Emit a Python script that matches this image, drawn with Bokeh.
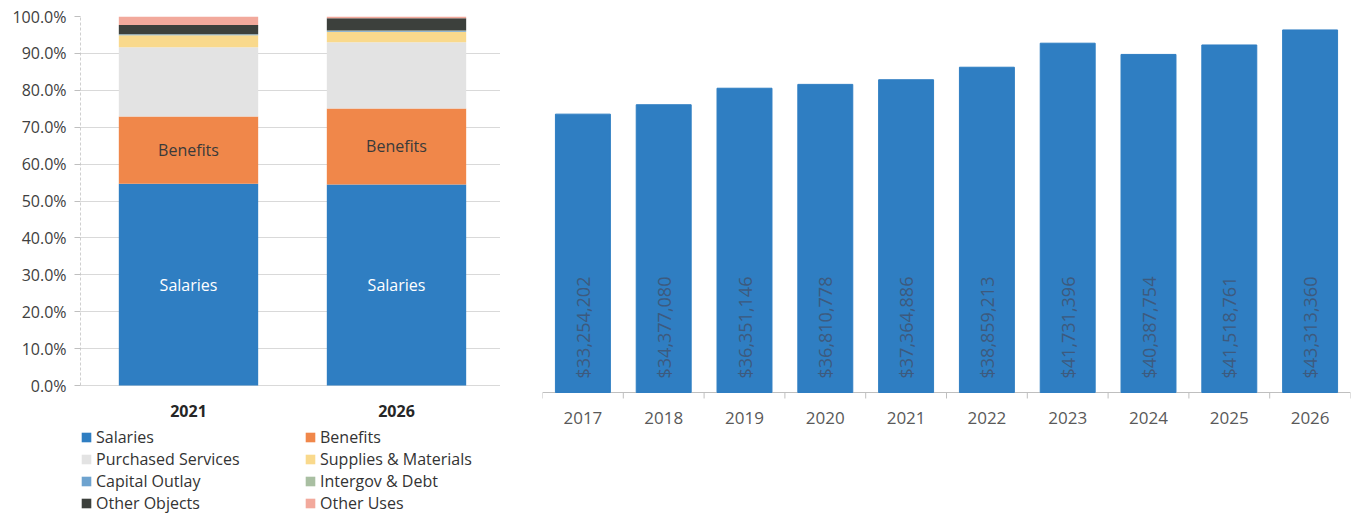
import math
from bokeh.plotting import figure
from bokeh.models import (ColumnDataSource, Range1d, NumeralTickFormatter,
                          Legend, LegendItem, FixedTicker, Grid)
from bokeh.layouts import row
from bokeh.embed import file_html
from bokeh.resources import INLINE
from bokeh.core.properties import value

# ---------------- data ----------------
mix_years = ["2021", "2026"]
segments = ["Salaries", "Benefits", "Purchased Services", "Supplies & Materials",
            "Capital Outlay", "Intergov & Debt", "Other Objects", "Other Uses"]
share_2021 = [54.7, 18.2, 18.8, 3.2, 0.2, 0.1, 2.5, 2.3]
share_2026 = [54.5, 20.6, 17.9, 2.9, 0.2, 0.1, 3.3, 0.5]
segment_colors = ["#2f7ec2", "#f0874a", "#e3e3e3", "#f9d98c",
                  "#6ea3cf", "#a9bfa2", "#3c403c", "#f2a99c"]
inner_labels = ["Salaries", "Benefits"]
inner_label_colors = ["#ffffff", "#3a3a3a"]
pct_ticks = [0.0, 0.1, 0.2, 0.3, 0.4, 0.5, 0.6, 0.7, 0.8, 0.9, 1.0]

budget_years = ["2017", "2018", "2019", "2020", "2021",
                "2022", "2023", "2024", "2025", "2026"]
budget_totals = [33254202, 34377080, 36351146, 36810778, 37364886,
                 38859213, 41731396, 40387754, 41518761, 43313360]

FONT = "Open Sans"

# ---------------- left: stacked 100% bars ----------------
mix_x = [i + 0.5 for i in range(len(mix_years))]
src = {"x": mix_x, "year": mix_years, "base": [0.0] * len(mix_years)}
for name, a, b in zip(segments, share_2021, share_2026):
    src[name] = [a / 100.0, b / 100.0]
source = ColumnDataSource(src)

left = figure(x_range=Range1d(-0.0192, len(mix_years)), y_range=Range1d(-0.355, 1),
              width=500, height=516, output_backend="svg", toolbar_location=None,
              min_border_left=80, min_border_right=0, min_border_top=16,
              min_border_bottom=0, x_axis_location=None)
renderers = left.vbar_stack(segments, x="x", width=0.67, color=segment_colors,
                            source=source, line_width=0)

# inner labels centred in their segments
lx, ly, lt, lc = [], [], [], []
shares = {"2021": share_2021, "2026": share_2026}
for xp, yr in zip(mix_x, mix_years):
    vals = shares[yr]
    for name, col in zip(inner_labels, inner_label_colors):
        k = segments.index(name)
        lx.append(xp)
        ly.append((sum(vals[:k]) + vals[k] / 2.0) / 100.0)
        lt.append(name)
        lc.append(col)
left.text(x="x", y="y", text="t", text_color="c",
          source=ColumnDataSource(dict(x=lx, y=ly, t=lt, c=lc)),
          text_align="center", text_baseline="middle",
          text_font=value(FONT), text_font_size="16px")

# category labels under the bars
left.text(x="x", y="base", text="year", source=source, y_offset=25,
          text_align="center", text_baseline="middle", text_font=value(FONT),
          text_font_size="16px", text_font_style="bold", text_color="#262626")

left.yaxis.ticker = FixedTicker(ticks=pct_ticks)
left.yaxis.formatter = NumeralTickFormatter(format="0.0%")
left.yaxis.bounds = (0, 1)
left.yaxis.major_label_text_font = FONT
left.yaxis.major_label_text_font_size = "16px"
left.yaxis.major_label_text_color = "#404040"
left.yaxis.major_label_standoff = 8
left.yaxis.axis_line_color = "#cfcfcf"
left.yaxis.axis_line_dash = "3 2"
left.yaxis.major_tick_out = 6
left.yaxis.major_tick_in = 0
left.yaxis.major_tick_line_color = "#bfbfbf"
left.yaxis.minor_tick_line_color = None

left.xgrid.visible = False
left.ygrid.grid_line_color = "#d9d9d9"
left.outline_line_color = None

legend = Legend(items=[LegendItem(label=n, renderers=[r]) for n, r in zip(segments, renderers)],
                orientation="horizontal", ncols=2, location=(0, 2),
                glyph_width=12, glyph_height=12, label_standoff=4,
                label_width=208, label_height=22, spacing=0, padding=0, margin=0,
                border_line_color=None, background_fill_alpha=0,
                label_text_font=FONT, label_text_font_size="16px",
                label_text_color="#333333")
left.add_layout(legend, "center")

# ---------------- right: annual totals ----------------
positions = [i + 0.5 for i in range(len(budget_years))]
boundaries = list(range(len(budget_years) + 1))
rsrc = ColumnDataSource(dict(x=positions, total=budget_totals, year=budget_years,
                             base=[0] * len(budget_years),
                             label=["${:,.0f}".format(v) for v in budget_totals]))
tsrc = ColumnDataSource(dict(x=boundaries, base=[0] * len(boundaries)))

right = figure(x_range=Range1d(0, len(budget_years)), y_range=Range1d(-14.815e6, 44.92e6),
               width=851, height=516, output_backend="svg", toolbar_location=None,
               min_border_left=42, min_border_right=1, min_border_top=16,
               min_border_bottom=0, x_axis_location=None, y_axis_location=None)
right.xgrid.visible = False
right.ygrid.visible = False
# category axis: baseline plus boundary tick marks
right.add_layout(Grid(dimension=1, ticker=FixedTicker(ticks=[0]), grid_line_color="#bfbfbf"))
right.ray(x="x", y="base", length=6, length_units="screen", angle=-math.pi / 2,
          source=tsrc, line_color="#bfbfbf", line_width=1)

right.vbar(x="x", top="total", width=0.68, source=rsrc,
           fill_color="#2f7ec2", line_color="#2f7ec2")
right.text(x="x", y="base", text="label", source=rsrc, angle=math.pi / 2,
           y_offset=-14, text_align="left", text_baseline="middle",
           text_font=value(FONT), text_font_size="18px", text_color="#3d5a7e")
right.text(x="x", y="base", text="year", source=rsrc, y_offset=26,
           text_align="center", text_baseline="middle",
           text_font=value(FONT), text_font_size="17px", text_color="#595959")
right.outline_line_color = None

layout = row(left, right)
open("out.html", "w").write(file_html(layout, INLINE))
